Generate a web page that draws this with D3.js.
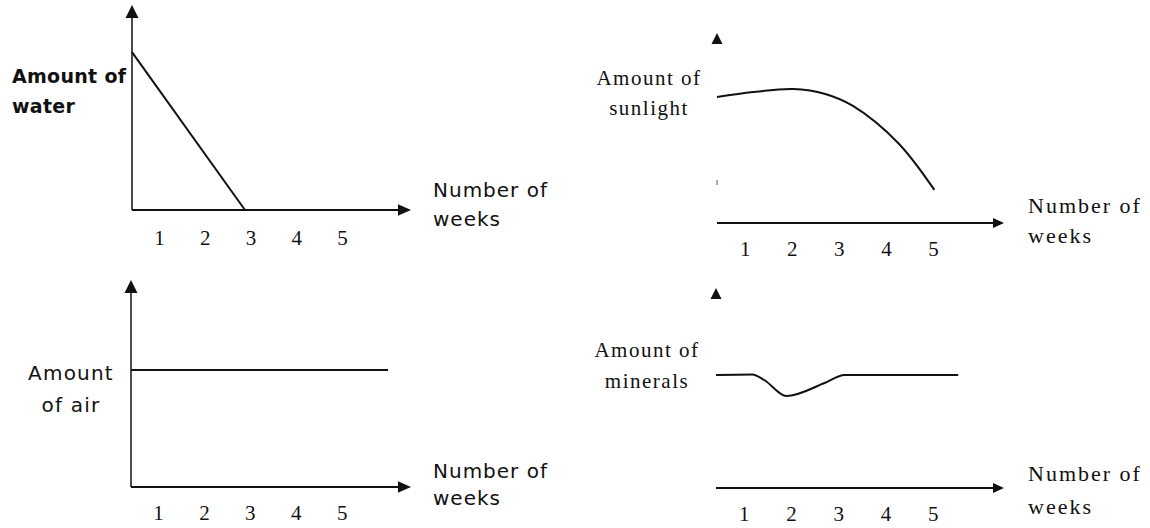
<!DOCTYPE html>
<html>
<head>
<meta charset="utf-8">
<script src="https://cdn.jsdelivr.net/npm/d3@7"></script>
<style>
  body { margin: 0; background: #fff; }
  svg { display: block; }
</style>
</head>
<body>
<svg id="chart" width="1150" height="528"></svg>
<script>
// tick labels shared by every panel
const weeks = [1, 2, 3, 4, 5];
const xTitle = ['Number of', 'weeks'];

// values (week, amount on a 0..10 scale)
const waterWeek = [0.4, 2.87];
const waterAmount = [7.7, 0];

const sunWeek = [0.4, 1.17, 2.02, 2.7, 3.29, 4.25, 5.02];
const sunAmount = [6.63, 6.89, 7.05, 6.79, 6.16, 4.21, 1.74];

const airWeek = [0.4, 6.0];
const airAmount = [5.65, 5.65];

const mineralWeek = [0.4, 1.17, 1.42, 1.89, 2.7, 3.12, 5.53];
const mineralAmount = [5.65, 5.68, 5.4, 4.6, 5.25, 5.65, 5.65];

const waterTitle = ['Amount of', 'water'];
const sunTitle = ['Amount of', 'sunlight'];
const airTitle = ['Amount', 'of air'];
const mineralTitle = ['Amount of', 'minerals'];

const ink = '#111';

// layout of each little graph
// yAxis: 'full' draws the line, 'mark' only the faint stub left in the scan, 'none' just the arrow head
const panels = [
    {week: waterWeek, amount: waterAmount, title: waterTitle, curve: d3.curveLinear,
     left: 132, right: 411, bottom: 210, top: 5, arrow: 13, yAxis: 'full',
     yFont: {family: 'DejaVu Sans', size: 19, weight: 'bold', spacing: 0.3, anchor: 'start', x: 12, y: [83, 113]},
     xFont: {family: 'DejaVu Sans', size: 20, spacing: 1, x: 433, y: [197, 226]},
     tickY: 245},
    {week: sunWeek, amount: sunAmount, title: sunTitle, curve: d3.curveCatmullRom,
     left: 717, right: 1004, bottom: 223, top: 33, arrow: 11, yAxis: 'mark',
     yFont: {family: 'Liberation Serif', size: 21, spacing: 1.5, anchor: 'middle', x: 649, y: [85, 115]},
     xFont: {family: 'Liberation Serif', size: 22, spacing: 2, x: 1028, y: [213, 243]},
     tickY: 256},
    {week: airWeek, amount: airAmount, title: airTitle, curve: d3.curveLinear,
     left: 131, right: 411, bottom: 487, top: 280, arrow: 13, yAxis: 'full',
     yFont: {family: 'DejaVu Sans', size: 20, spacing: 1.2, anchor: 'middle', x: 71, y: [380, 412]},
     xFont: {family: 'DejaVu Sans', size: 20, spacing: 1, x: 433, y: [478, 505]},
     tickY: 520},
    {week: mineralWeek, amount: mineralAmount, title: mineralTitle, curve: d3.curveMonotoneX,
     left: 716, right: 1004, bottom: 488, top: 288, arrow: 11, yAxis: 'none',
     yFont: {family: 'Liberation Serif', size: 21, spacing: 1.5, anchor: 'middle', x: 647, y: [357, 388]},
     xFont: {family: 'Liberation Serif', size: 22, spacing: 2, x: 1028, y: [481, 514]},
     tickY: 521}
];

const svg = d3.select('#chart');

panels.forEach(function(p) {
    let g = svg.append('g');

    let x = d3.scaleLinear().domain([0.4, 6.5]).range([p.left, p.right]);
    let y = d3.scaleLinear().domain([0, 10]).range([p.bottom, p.top]);

    // x axis with arrow
    g.append('line')
        .attr('x1', x(0.4)).attr('x2', x(6.5) - p.arrow + 2)
        .attr('y1', y(0)).attr('y2', y(0))
        .attr('stroke', ink).attr('stroke-width', 2);
    g.append('path')
        .attr('d', `M${x(6.5)},${y(0)} l${-p.arrow},${-p.arrow * 0.45} l0,${p.arrow * 0.9} Z`)
        .attr('fill', ink);

    // y axis: the scan lost most of it on the right-hand graphs
    if (p.yAxis === 'full') {
        g.append('line')
            .attr('x1', x(0.4)).attr('x2', x(0.4))
            .attr('y1', y(0)).attr('y2', y(10) + p.arrow - 2)
            .attr('stroke', ink).attr('stroke-width', 1.5);
    } else if (p.yAxis === 'mark') {
        g.append('line')
            .attr('x1', x(0.4)).attr('x2', x(0.4))
            .attr('y1', y(2)).attr('y2', y(2) - 5)
            .attr('stroke', '#555').attr('stroke-width', 1);
    }
    g.append('path')
        .attr('d', `M${x(0.4)},${y(10)} l${-p.arrow * 0.5},${p.arrow} l${p.arrow},0 Z`)
        .attr('fill', ink);

    // the data line
    let pts = p.week.map((w, i) => [w, p.amount[i]]);
    g.append('path')
        .datum(pts)
        .attr('d', d3.line().x(d => x(d[0])).y(d => y(d[1])).curve(p.curve))
        .attr('fill', 'none')
        .attr('stroke', ink)
        .attr('stroke-width', 2);

    // week numbers
    g.selectAll('text.tick')
        .data(weeks)
        .enter()
        .append('text')
        .attr('class', 'tick')
        .attr('x', d => x(d))
        .attr('y', p.tickY)
        .attr('text-anchor', 'middle')
        .attr('font-family', 'Liberation Serif')
        .attr('font-size', 21)
        .attr('fill', ink)
        .text(d => d);

    // y title
    g.selectAll('text.ytitle')
        .data(p.title)
        .enter()
        .append('text')
        .attr('class', 'ytitle')
        .attr('x', p.yFont.x)
        .attr('y', (d, i) => p.yFont.y[i])
        .attr('text-anchor', p.yFont.anchor)
        .attr('font-family', p.yFont.family)
        .attr('font-size', p.yFont.size)
        .attr('font-weight', p.yFont.weight || 'normal')
        .attr('letter-spacing', p.yFont.spacing)
        .attr('fill', ink)
        .text(d => d);

    // x title
    g.selectAll('text.xtitle')
        .data(xTitle)
        .enter()
        .append('text')
        .attr('class', 'xtitle')
        .attr('x', p.xFont.x)
        .attr('y', (d, i) => p.xFont.y[i])
        .attr('font-family', p.xFont.family)
        .attr('font-size', p.xFont.size)
        .attr('letter-spacing', p.xFont.spacing)
        .attr('fill', ink)
        .text(d => d);
});
</script>
</body>
</html>
